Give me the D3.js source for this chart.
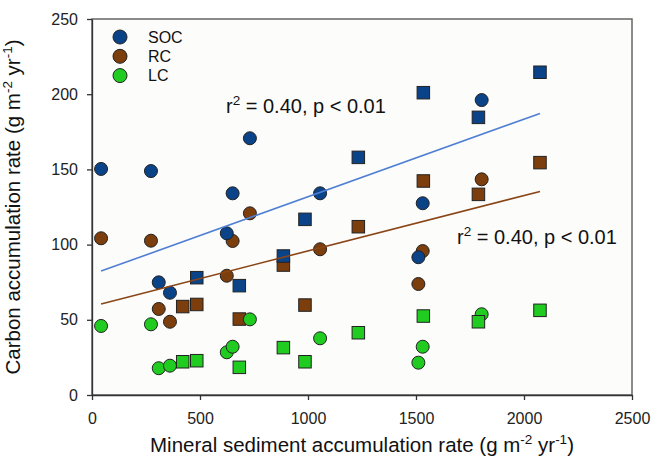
<!DOCTYPE html>
<html>
<head>
<meta charset="utf-8">
<script src="https://cdn.jsdelivr.net/npm/d3@7"></script>
<style>
  body { margin: 0; background: #fff; }
  svg { font-family: "Liberation Sans", Arial, sans-serif; }
  .axis path, .axis line { stroke: #333; stroke-width: 1.3; }
  .axis text { font-size: 16px; fill: #222; }
</style>
</head>
<body>
<svg width="654" height="458"></svg>
<script>
// sites shown as circles
var circleX = [42, 273, 309, 361, 624, 651, 731, 1056, 1511, 1531, 1804];
var socCircle = [150.3, 148.9, 74.9, 68.0, 107.5, 134.1, 170.7, 134.1, 91.6, 127.5, 196.1];
var rcCircle = [104.2, 102.6, 57.2, 48.7, 79.3, 102.4, 120.8, 96.9, 73.8, 95.7, 143.4];
var lcCircle = [45.9, 47.0, 17.8, 19.5, 28.4, 32.1, 50.3, 37.7, 21.5, 32.1, 53.7];

// sites shown as squares
var squareX = [420, 485, 682, 886, 986, 1233, 1534, 1789, 2074];
var socSquare = [null, 78.0, 72.7, 92.4, 116.8, 158.0, 201.0, 184.6, 214.6];
var rcSquare = [58.8, 60.2, 50.5, 86.4, 59.8, 111.9, 142.3, 133.4, 154.5];
var lcSquare = [22.1, 22.8, 18.4, 31.5, 22.1, 41.4, 52.5, 48.7, 56.3];

// regression fits (intercept, slope)
var socFit = [80.2, 0.0516];
var rcFit = [59.0, 0.0368];

var xTicks = [0, 500, 1000, 1500, 2000, 2500];
var yTicks = [0, 50, 100, 150, 200, 250];

var series = ["SOC", "RC", "LC"];
var colors = {SOC: "#0b4388", RC: "#7b3e0c", LC: "#1fcc1f"};
var lineColors = {SOC: "#4f7fd3", RC: "#8a4516"};

var svg = d3.select("svg"),
  margin = {top: 19, right: 22, bottom: 63, left: 92},
  width = 654 - margin.left - margin.right,
  height = 458 - margin.top - margin.bottom,
  g = svg.append("g").attr("transform", "translate(" + margin.left + "," + margin.top + ")");

var x = d3.scaleLinear().domain([0, 2500]).range([0, width]);
var y = d3.scaleLinear().domain([0, 250]).range([height, 0]);

g.append("rect")
  .attr("width", width)
  .attr("height", height)
  .attr("fill", "#fcfcfb")
  .attr("stroke", "#666")
  .attr("stroke-width", 1.5);

g.append("g")
  .attr("class", "axis")
  .attr("transform", "translate(0," + height + ")")
  .call(d3.axisBottom(x).tickValues(xTicks).tickFormat(d3.format("d"))
    .tickSize(5).tickPadding(13).tickSizeOuter(0));

g.append("g")
  .attr("class", "axis")
  .call(d3.axisLeft(y).tickValues(yTicks).tickFormat(d3.format("d"))
    .tickSize(5).tickPadding(9).tickSizeOuter(0));

function pts(xs, ys) {
  return xs.map(function(d, i) { return {x: d, y: ys[i]}; })
    .filter(function(d) { return d.y != null; });
}

var data = {
  SOC: {c: pts(circleX, socCircle), s: pts(squareX, socSquare)},
  RC: {c: pts(circleX, rcCircle), s: pts(squareX, rcSquare)},
  LC: {c: pts(circleX, lcCircle), s: pts(squareX, lcSquare)}
};

var r = 6.5, side = 12.5;

["RC", "LC", "SOC"].forEach(function(k) {
  g.append("g").selectAll("circle")
    .data(data[k].c)
    .enter().append("circle")
    .attr("cx", function(d) { return x(d.x); })
    .attr("cy", function(d) { return y(d.y); })
    .attr("r", r)
    .attr("fill", colors[k])
    .attr("stroke", "#222")
    .attr("stroke-width", 1);

  g.append("g").selectAll("rect")
    .data(data[k].s)
    .enter().append("rect")
    .attr("x", function(d) { return x(d.x) - side / 2; })
    .attr("y", function(d) { return y(d.y) - side / 2; })
    .attr("width", side)
    .attr("height", side)
    .attr("fill", colors[k])
    .attr("stroke", "#222")
    .attr("stroke-width", 1);
});

var allX = circleX.concat(squareX);
var xMin = d3.min(allX), xMax = d3.max(allX);

var line = d3.line()
  .x(function(d) { return x(d[0]); })
  .y(function(d) { return y(d[1]); });

[["SOC", socFit], ["RC", rcFit]].forEach(function(f) {
  var fit = f[1];
  g.append("path")
    .datum([[xMin, fit[0] + fit[1] * xMin], [xMax, fit[0] + fit[1] * xMax]])
    .attr("d", line)
    .attr("fill", "none")
    .attr("stroke", lineColors[f[0]])
    .attr("stroke-width", 1.6);
});

// r2 labels
function r2Label(px, py) {
  var t = g.append("text")
    .attr("x", px)
    .attr("y", py)
    .attr("font-size", 20)
    .attr("fill", "#111");
  t.append("tspan").text("r");
  t.append("tspan").attr("dy", -8).attr("font-size", 13.5).text("2");
  t.append("tspan").attr("dy", 8).text(" = 0.40, p < 0.01");
}
r2Label(226 - margin.left, 113 - margin.top);
r2Label(457 - margin.left, 244 - margin.top);

// legend
var legend = g.append("g").attr("transform", "translate(28,18)");
series.forEach(function(k, i) {
  legend.append("circle")
    .attr("cx", 0)
    .attr("cy", i * 19.3)
    .attr("r", 7)
    .attr("fill", colors[k])
    .attr("stroke", "#222")
    .attr("stroke-width", 1);
  legend.append("text")
    .attr("x", 28)
    .attr("y", i * 19.3 + 5.8)
    .attr("font-size", 16)
    .attr("fill", "#111")
    .text(k);
});

// axis titles
var xt = svg.append("text")
  .attr("x", margin.left + width / 2)
  .attr("y", 452)
  .attr("text-anchor", "middle")
  .attr("font-size", 20.5)
  .attr("fill", "#111");
xt.append("tspan").text("Mineral sediment accumulation rate (g m");
xt.append("tspan").attr("dy", -8).attr("font-size", 13.5).text("-2");
xt.append("tspan").attr("dy", 8).text(" yr");
xt.append("tspan").attr("dy", -8).attr("font-size", 13.5).text("-1");
xt.append("tspan").attr("dy", 8).text(")");

var yt = svg.append("text")
  .attr("transform", "translate(20," + (margin.top + height / 2) + ") rotate(-90)")
  .attr("text-anchor", "middle")
  .attr("font-size", 20.5)
  .attr("fill", "#111");
yt.append("tspan").text("Carbon accumulation rate (g m");
yt.append("tspan").attr("dy", -8).attr("font-size", 13.5).text("-2");
yt.append("tspan").attr("dy", 8).text(" yr");
yt.append("tspan").attr("dy", -8).attr("font-size", 13.5).text("-1");
yt.append("tspan").attr("dy", 8).text(")");
</script>
</body>
</html>
